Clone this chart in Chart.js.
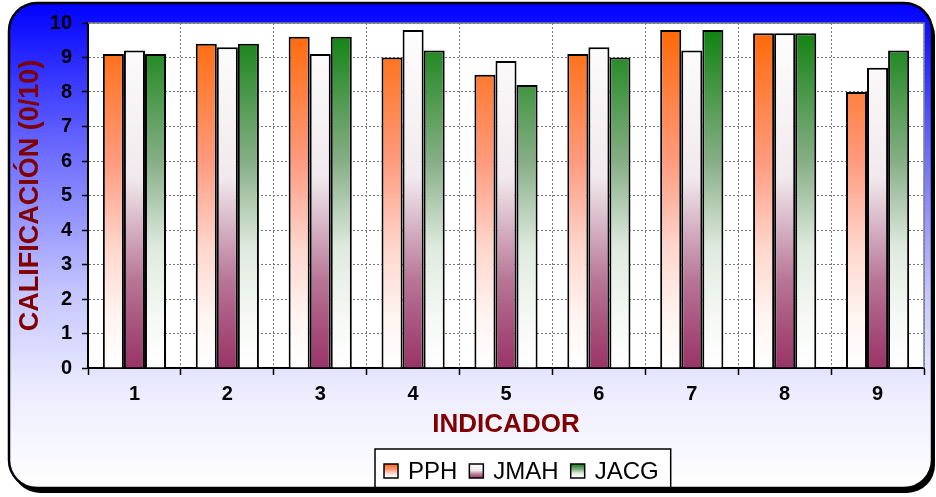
<!DOCTYPE html>
<html>
<head>
<meta charset="utf-8">
<script src="https://cdn.jsdelivr.net/npm/chart.js@4"></script>
<style>
  html, body { margin: 0; padding: 0; background: #ffffff; }
  #wrap { width: 936px; height: 497px; }
</style>
</head>
<body>
<div id="wrap"><canvas id="c" width="936" height="497"></canvas></div>
<script>
// Calificaciones por indicador (escala 0-10)
const indicadores = ['1', '2', '3', '4', '5', '6', '7', '8', '9'];
const pph  = [9.1, 9.4, 9.6, 9.0, 8.5, 9.1, 9.8, 9.7, 8.0];
const jmah = [9.2, 9.3, 9.1, 9.8, 8.9, 9.3, 9.2, 9.7, 8.7];
const jacg = [9.1, 9.4, 9.6, 9.2, 8.2, 9.0, 9.8, 9.7, 9.2];
const serieNombres = ['PPH', 'JMAH', 'JACG'];
const yMin = 0, yMax = 10, yPaso = 1;

const FONT = '"Liberation Sans", Arial, sans-serif';

// Degradados verticales de cada serie (arriba -> abajo)
const degradados = [
  [[0, '#ff6600'], [0.4, '#ff9a7e'], [0.65, '#ffd6cc'], [0.85, '#fff4f1'], [1, '#ffffff']],
  [[0, '#ffffff'], [0.45, '#f1e9ed'], [0.75, '#b77495'], [1, '#993366']],
  [[0, '#0a800a'], [0.4, '#86ae86'], [0.65, '#dfeadf'], [0.85, '#f5f8f5'], [1, '#ffffff']]
];

function crearDegradado(ctx, top, bottom, stops) {
  const g = ctx.createLinearGradient(0, top, 0, bottom);
  stops.forEach(([o, c]) => g.addColorStop(o, c));
  return g;
}

function rellenoSerie(i) {
  return (context) => {
    const chart = context.chart;
    const area = chart.chartArea;
    if (!area) return '#ffffff';
    return crearDegradado(chart.ctx, area.top, area.bottom, degradados[i]);
  };
}

function rutaRedondeada(ctx, x, y, w, h, r) {
  ctx.beginPath();
  ctx.moveTo(x + r, y);
  ctx.lineTo(x + w - r, y);
  ctx.arcTo(x + w, y, x + w, y + r, r);
  ctx.lineTo(x + w, y + h - r);
  ctx.arcTo(x + w, y + h, x + w - r, y + h, r);
  ctx.lineTo(x + r, y + h);
  ctx.arcTo(x, y + h, x, y + h - r, r);
  ctx.lineTo(x, y + r);
  ctx.arcTo(x, y, x + r, y, r);
  ctx.closePath();
}

const MARCO = { x: 9, y: 3, w: 923, h: 485, r: 28 };

// Marco redondeado con fondo azul degradado y área de trazado blanca
const marcoPlugin = {
  id: 'marco',
  beforeDraw(chart) {
    const ctx = chart.ctx;
    const { x, y, w, h, r } = MARCO;
    ctx.save();
    // sombra
    rutaRedondeada(ctx, x + 3, y + 5, w, h, r);
    ctx.fillStyle = '#000000';
    ctx.fill();
    // fondo
    rutaRedondeada(ctx, x, y, w, h, r);
    const g = ctx.createLinearGradient(0, y, 0, y + h);
    g.addColorStop(0, '#0000ff');
    g.addColorStop(0.3, '#6a6aff');
    g.addColorStop(0.6, '#c6c6ff');
    g.addColorStop(0.8, '#ececff');
    g.addColorStop(1, '#ffffff');
    ctx.fillStyle = g;
    ctx.fill();
    // área de trazado
    const a = chart.chartArea;
    ctx.fillStyle = '#ffffff';
    ctx.fillRect(a.left, a.top, a.right - a.left, a.bottom - a.top);
    ctx.restore();
  },
  beforeDatasetsDraw(chart) {
    const ctx = chart.ctx;
    const a = chart.chartArea;
    ctx.save();
    ctx.strokeStyle = '#808080';
    ctx.lineWidth = 1.5;
    ctx.beginPath();
    ctx.moveTo(a.left, a.top);
    ctx.lineTo(a.right, a.top);
    ctx.lineTo(a.right, a.bottom);
    ctx.stroke();
    ctx.restore();
  },
  afterDraw(chart) {
    const ctx = chart.ctx;
    const { x, y, w, h, r } = MARCO;
    // leyenda con recuadro
    ctx.save();
    ctx.font = '24px ' + FONT;
    const cuadro = 14, huecoTexto = 10, huecoItem = 12, margen = 9;
    let ancho = margen;
    serieNombres.forEach((n, i) => {
      ancho += cuadro + huecoTexto + ctx.measureText(n).width;
      if (i < serieNombres.length - 1) ancho += huecoItem;
    });
    ancho += margen + 3;
    const centro = 522.5;
    const lx = Math.round(centro - ancho / 2);
    const ly = 449;
    ctx.fillStyle = '#ffffff';
    ctx.fillRect(lx, ly, ancho, y + h - ly);
    ctx.strokeStyle = '#000000';
    ctx.lineWidth = 1.5;
    ctx.strokeRect(lx, ly, ancho, y + h - ly + 4);
    let cx = lx + margen;
    const cy = 471;
    serieNombres.forEach((n, i) => {
      ctx.fillStyle = crearDegradado(ctx, cy - 7, cy + 7, degradados[i]);
      ctx.fillRect(cx, cy - 7, cuadro, cuadro);
      ctx.strokeStyle = '#000000';
      ctx.lineWidth = 1.5;
      ctx.strokeRect(cx, cy - 7, cuadro, cuadro);
      cx += cuadro + huecoTexto;
      ctx.fillStyle = '#000000';
      ctx.textBaseline = 'middle';
      ctx.textAlign = 'left';
      ctx.fillText(n, cx, cy + 1);
      cx += ctx.measureText(n).width + huecoItem;
    });
    // borde del marco
    rutaRedondeada(ctx, x, y, w, h, r);
    ctx.strokeStyle = '#000000';
    ctx.lineWidth = 2.5;
    ctx.stroke();
    ctx.restore();
  }
};

const datasets = [pph, jmah, jacg].map((vals, i) => ({
  label: serieNombres[i],
  data: vals,
  backgroundColor: rellenoSerie(i),
  borderColor: '#000000',
  borderWidth: 2,
  categoryPercentage: 0.68,
  barPercentage: 1.0
}));

new Chart(document.getElementById('c'), {
  type: 'bar',
  data: { labels: indicadores, datasets },
  options: {
    responsive: false,
    animation: false,
    devicePixelRatio: 1,
    layout: { padding: { left: 14, right: 12, top: 23, bottom: 57 } },
    plugins: {
      legend: { display: false },
      tooltip: { enabled: false }
    },
    scales: {
      x: {
        grid: {
          color: '#7a7a7a',
          lineWidth: 1,
          offset: true,
          tickLength: 7,
          tickColor: '#000000',
          tickWidth: 1.5,
          tickBorderDash: []
        },
        border: { color: '#000000', width: 2, dash: [2, 2] },
        ticks: {
          color: '#000000',
          font: { family: FONT, size: 20, weight: 'bold' },
          padding: 7
        },
        title: {
          display: true,
          text: 'INDICADOR',
          color: '#800000',
          font: { family: FONT, size: 26, weight: 'bold' },
          padding: { top: 0, bottom: 0 }
        },
        afterFit(scale) { scale.height = 72; }
      },
      y: {
        min: yMin,
        max: yMax,
        grid: {
          color: '#7a7a7a',
          lineWidth: 1,
          tickLength: 6,
          tickColor: '#000000',
          tickWidth: 1.5,
          tickBorderDash: []
        },
        border: { color: '#000000', width: 2, dash: [2, 2] },
        ticks: {
          stepSize: yPaso,
          color: '#000000',
          font: { family: FONT, size: 20, weight: 'bold' },
          padding: 10
        },
        title: {
          display: true,
          text: 'CALIFICACIÓN (0/10)',
          color: '#800000',
          font: { family: FONT, size: 27, weight: 'bold' },
          padding: { top: 0, bottom: 0 }
        },
        afterFit(scale) { scale.width = 74; }
      }
    }
  },
  plugins: [marcoPlugin]
});
</script>
</body>
</html>
